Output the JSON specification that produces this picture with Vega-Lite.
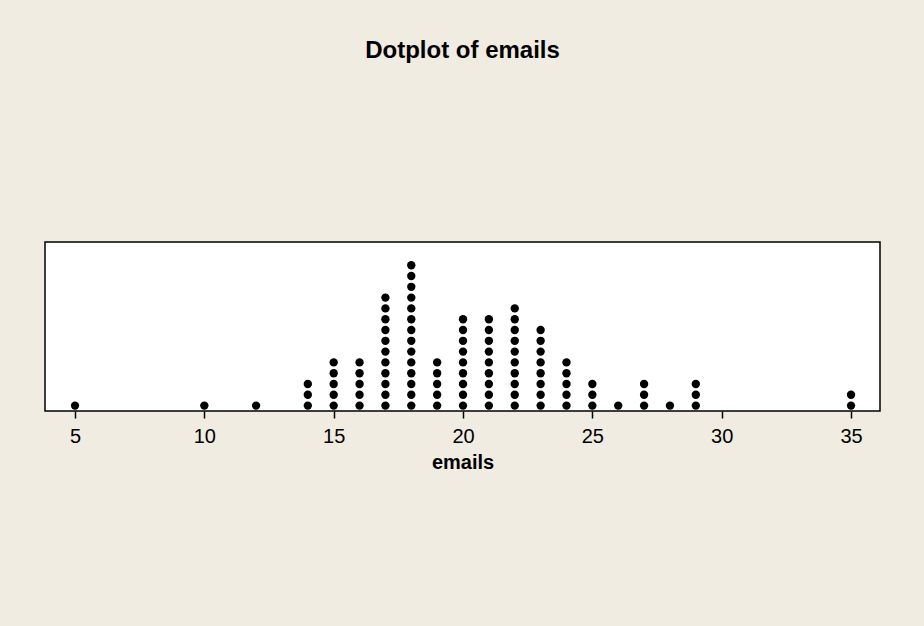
{
  "$schema": "https://vega.github.io/schema/vega-lite/v6.json",
  "width": 835,
  "height": 169,
  "autosize": {"type": "none"},
  "padding": {"left": 45, "top": 242, "right": 44, "bottom": 215},
  "background": "#F0ECE2",
  "title": {
    "text": "Dotplot of emails",
    "anchor": "middle",
    "frame": "group",
    "font": "Liberation Sans",
    "fontSize": 24,
    "fontWeight": "bold",
    "color": "#000000",
    "baseline": "alphabetic",
    "offset": 160
  },
  "config": {
    "view": {"stroke": "#000000", "strokeWidth": 1.5, "fill": "#FFFFFF"}
  },
  "data": {
    "values": [
      {"emails": 5},
      {"emails": 10},
      {"emails": 12},
      {"emails": 14}, {"emails": 14}, {"emails": 14},
      {"emails": 15}, {"emails": 15}, {"emails": 15}, {"emails": 15}, {"emails": 15},
      {"emails": 16}, {"emails": 16}, {"emails": 16}, {"emails": 16}, {"emails": 16},
      {"emails": 17}, {"emails": 17}, {"emails": 17}, {"emails": 17}, {"emails": 17}, {"emails": 17}, {"emails": 17}, {"emails": 17}, {"emails": 17}, {"emails": 17}, {"emails": 17},
      {"emails": 18}, {"emails": 18}, {"emails": 18}, {"emails": 18}, {"emails": 18}, {"emails": 18}, {"emails": 18}, {"emails": 18}, {"emails": 18}, {"emails": 18}, {"emails": 18}, {"emails": 18}, {"emails": 18}, {"emails": 18},
      {"emails": 19}, {"emails": 19}, {"emails": 19}, {"emails": 19}, {"emails": 19},
      {"emails": 20}, {"emails": 20}, {"emails": 20}, {"emails": 20}, {"emails": 20}, {"emails": 20}, {"emails": 20}, {"emails": 20}, {"emails": 20},
      {"emails": 21}, {"emails": 21}, {"emails": 21}, {"emails": 21}, {"emails": 21}, {"emails": 21}, {"emails": 21}, {"emails": 21}, {"emails": 21},
      {"emails": 22}, {"emails": 22}, {"emails": 22}, {"emails": 22}, {"emails": 22}, {"emails": 22}, {"emails": 22}, {"emails": 22}, {"emails": 22}, {"emails": 22},
      {"emails": 23}, {"emails": 23}, {"emails": 23}, {"emails": 23}, {"emails": 23}, {"emails": 23}, {"emails": 23}, {"emails": 23},
      {"emails": 24}, {"emails": 24}, {"emails": 24}, {"emails": 24}, {"emails": 24},
      {"emails": 25}, {"emails": 25}, {"emails": 25},
      {"emails": 26},
      {"emails": 27}, {"emails": 27}, {"emails": 27},
      {"emails": 28},
      {"emails": 29}, {"emails": 29}, {"emails": 29},
      {"emails": 35}, {"emails": 35}
    ]
  },
  "transform": [
    {"window": [{"op": "row_number", "as": "stack"}], "groupby": ["emails"]}
  ],
  "mark": {"type": "point", "shape": "circle", "filled": true, "size": 70, "color": "#000000", "opacity": 1},
  "encoding": {
    "x": {
      "field": "emails",
      "type": "quantitative",
      "scale": {"domain": [3.84, 36.12], "nice": false, "zero": false},
      "axis": {
        "values": [5, 10, 15, 20, 25, 30, 35],
        "grid": false,
        "domain": false,
        "ticks": true,
        "tickSize": 7,
        "tickColor": "#000000",
        "tickWidth": 1.5,
        "labelFont": "Liberation Sans",
        "labelFontSize": 20,
        "labelColor": "#000000",
        "labelPadding": 8,
        "title": "emails",
        "titleFont": "Liberation Sans",
        "titleFontSize": 20,
        "titleFontWeight": "bold",
        "titleColor": "#000000",
        "titlePadding": 6
      }
    },
    "y": {
      "field": "stack",
      "type": "quantitative",
      "scale": {"domain": [0.5, 16.15], "nice": false, "zero": false},
      "axis": null
    }
  }
}
